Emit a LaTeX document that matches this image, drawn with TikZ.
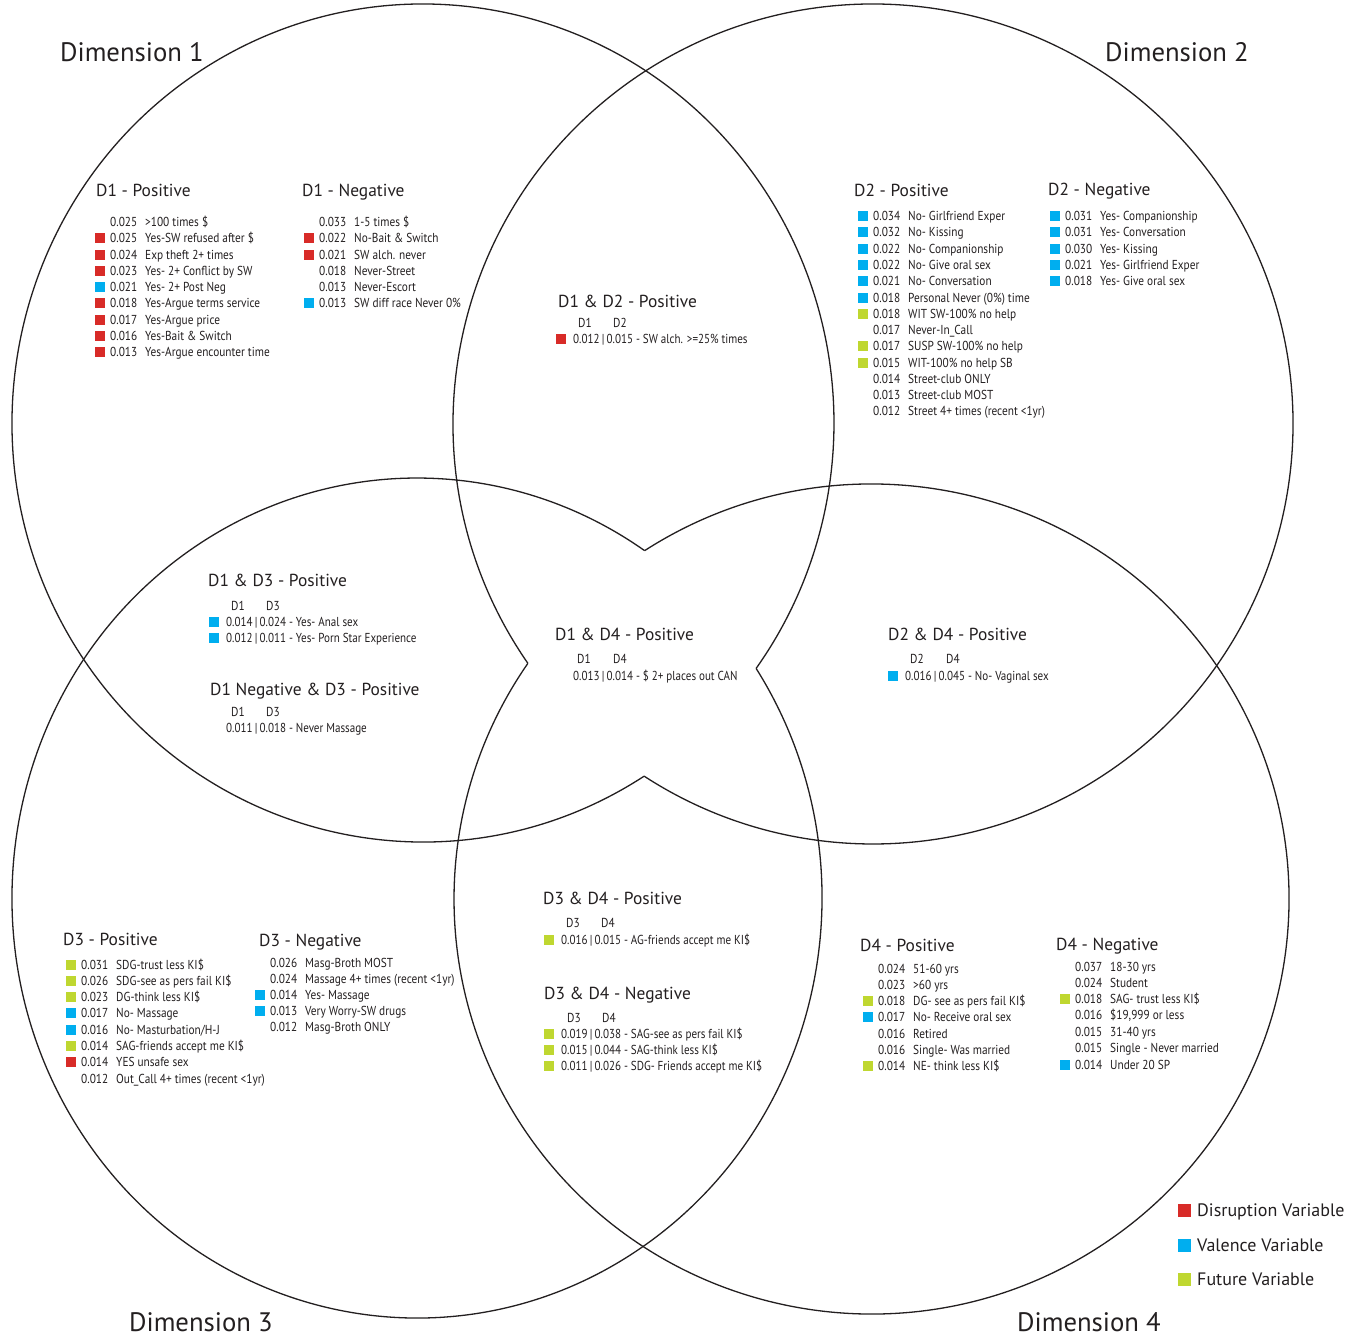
\documentclass[tikz,border=0pt]{standalone}
\usepackage{fontspec}
\setmainfont{PT Sans}
\newfontfamily\condfont[FakeStretch=0.87]{PT Sans}
\newfontfamily\pairfont[FakeStretch=0.85]{PT Sans}
\definecolor{disr}{RGB}{216,43,40}
\definecolor{vale}{RGB}{0,174,239}
\definecolor{futu}{RGB}{191,215,48}
\definecolor{ink}{RGB}{35,31,32}
\tikzset{
 circ/.style={draw=ink, line width=1.3pt},
 ttl/.style={anchor=base west, inner sep=0pt, text=ink, font=\fontsize{26.7}{30}\selectfont},
 hdr/.style={anchor=base west, inner sep=0pt, text=ink, font=\fontsize{17.4}{21}\selectfont},
 rowtxt/.style={anchor=base west, inner sep=0pt, text=ink, font=\condfont\fontsize{13}{15}\selectfont},
 pairtxt/.style={anchor=base west, inner sep=0pt, text=ink, font=\pairfont\fontsize{13}{15}\selectfont},
 legtxt/.style={anchor=base west, inner sep=0pt, text=ink, font=\fontsize{18}{21}\selectfont},
 sqbox/.style={inner sep=0pt, minimum size=9.5pt, draw=none},
 legsq/.style={inner sep=0pt, minimum size=13pt, draw=none},
}
\newcommand{\drow}[6]{%
  \def\tmpcol{#2}\def\nonecol{none}%
  \ifx\tmpcol\nonecol\else\node[sqbox,fill=#2] (#1s) at ({#3-10},#4) {};\fi
  \node[rowtxt] (#1v) at (#3,{#4+4.5}) {#5};
  \node[rowtxt] (#1l) at ({#3+35},{#4+4.5}) {#6};
}
\newcommand{\prow}[5]{%
  \def\tmpcol{#2}\def\nonecol{none}%
  \ifx\tmpcol\nonecol\else\node[sqbox,fill=#2] (#1s) at ({#3-12},#4) {};\fi
  \node[pairtxt] (#1t) at (#3,{#4+4.5}) {#5};
}
\begin{document}
\begin{tikzpicture}[x=1pt,y=-1pt]
\fill[white] (0,0) rectangle (1364,1338);
\useasboundingbox (0,0) rectangle (1364,1338);
% the four dimension circles (inner arcs of the centre region left out)
\draw[circ] (423,423) ++(57.47:411 and 419) arc[start angle=57.47, end angle=395.85, x radius=411, y radius=419];
\draw[circ] (873,424) ++(145.25:420 and 420) arc[start angle=145.25, end angle=483.04, x radius=420, y radius=420];
\draw[circ] (417,898) ++(-33.14:405 and 420) arc[start angle=-33.14, end angle=304.2, x radius=405, y radius=420];
\draw[circ] (871.5,899) ++(-122.92:417.5 and 415) arc[start angle=-122.92, end angle=214.59, x radius=417.5, y radius=415];
% titles
\node[ttl] (t1) at (60,62) {Dimension 1};
\node[ttl] (t2) at (1105,62) {Dimension 2};
\node[ttl] (t3) at (129,1331) {Dimension 3};
\node[ttl] (t4) at (1017,1331) {Dimension 4};
% D1 positive
\node[hdr] (h1p) at (96,196) {D1 - Positive};
\drow{a1}{none}{110}{222}{0.025}{>100 times \$}
\drow{a2}{disr}{110}{238}{0.025}{Yes-SW refused after \$}
\drow{a3}{disr}{110}{255}{0.024}{Exp theft 2+ times}
\drow{a4}{disr}{110}{271}{0.023}{Yes- 2+ Conflict by SW}
\drow{a5}{vale}{110}{287}{0.021}{Yes- 2+ Post Neg}
\drow{a6}{disr}{110}{303}{0.018}{Yes-Argue terms service}
\drow{a7}{disr}{110}{320}{0.017}{Yes-Argue price}
\drow{a8}{disr}{110}{336}{0.016}{Yes-Bait \& Switch}
\drow{a9}{disr}{110}{352}{0.013}{Yes-Argue encounter time}
% D1 negative
\node[hdr] (h1n) at (302,196) {D1 - Negative};
\drow{b1}{none}{319}{222}{0.033}{1-5 times \$}
\drow{b2}{disr}{319}{238}{0.022}{No-Bait \& Switch}
\drow{b3}{disr}{319}{255}{0.021}{SW alch. never}
\drow{b4}{none}{319}{271}{0.018}{Never-Street}
\drow{b5}{none}{319}{287}{0.013}{Never-Escort}
\drow{b6}{vale}{319}{303}{0.013}{SW diff race Never 0\%}
% D2 positive
\node[hdr] (h2p) at (854,196) {D2 - Positive};
\drow{c1}{vale}{873}{216}{0.034}{No- Girlfriend Exper}
\drow{c2}{vale}{873}{232}{0.032}{No- Kissing}
\drow{c3}{vale}{873}{249}{0.022}{No- Companionship}
\drow{c4}{vale}{873}{265}{0.022}{No- Give oral sex}
\drow{c5}{vale}{873}{281}{0.021}{No- Conversation}
\drow{c6}{vale}{873}{298}{0.018}{Personal Never (0\%) time}
\drow{c7}{futu}{873}{314}{0.018}{WIT SW-100\% no help}
\drow{c8}{none}{873}{330}{0.017}{Never-In\_Call}
\drow{c9}{futu}{873}{346}{0.017}{SUSP SW-100\% no help}
\drow{c10}{futu}{873}{363}{0.015}{WIT-100\% no help SB}
\drow{c11}{none}{873}{379}{0.014}{Street-club ONLY}
\drow{c12}{none}{873}{395}{0.013}{Street-club MOST}
\drow{c13}{none}{873}{411}{0.012}{Street 4+ times (recent <1yr)}
% D2 negative
\node[hdr] (h2n) at (1048,195) {D2 - Negative};
\drow{d1}{vale}{1065}{216}{0.031}{Yes- Companionship}
\drow{d2}{vale}{1065}{232}{0.031}{Yes- Conversation}
\drow{d3}{vale}{1065}{249}{0.030}{Yes- Kissing}
\drow{d4}{vale}{1065}{265}{0.021}{Yes- Girlfriend Exper}
\drow{d5}{vale}{1065}{281}{0.018}{Yes- Give oral sex}
% D1 & D2
\node[hdr] (h12) at (558,307) {D1 \& D2 - Positive};
\node[rowtxt] (h12a) at (578,327.5) {D1};
\node[rowtxt] (h12b) at (613,327.5) {D2};
\prow{e1}{disr}{573}{339}{0.012\,|\,0.015 - SW alch. >=25\% times}
% D1 & D3
\node[hdr] (h13) at (208,586) {D1 \& D3 - Positive};
\node[rowtxt] (h13a) at (231,610.5) {D1};
\node[rowtxt] (h13b) at (266,610.5) {D3};
\prow{f1}{vale}{226}{622}{0.014\,|\,0.024 - Yes- Anal sex}
\prow{f2}{vale}{226}{638}{0.012\,|\,0.011 - Yes- Porn Star Experience}
% D1 negative & D3
\node[hdr] (h13n) at (210,695) {D1 Negative \& D3 - Positive};
\node[rowtxt] (h13c) at (231,716.5) {D1};
\node[rowtxt] (h13d) at (266,716.5) {D3};
\prow{g1}{none}{226}{728}{0.011\,|\,0.018 - Never Massage}
% D1 & D4
\node[hdr] (h14) at (555,640) {D1 \& D4 - Positive};
\node[rowtxt] (h14a) at (577,663.5) {D1};
\node[rowtxt] (h14b) at (613,663.5) {D4};
\prow{k1}{none}{573}{676}{0.013\,|\,0.014 - \$ 2+ places out CAN}
% D2 & D4
\node[hdr] (h24) at (888,640) {D2 \& D4 - Positive};
\node[rowtxt] (h24a) at (910,663.5) {D2};
\node[rowtxt] (h24b) at (946,663.5) {D4};
\prow{m1}{vale}{905}{676}{0.016\,|\,0.045 - No- Vaginal sex}
% D3 positive
\node[hdr] (h3p) at (63,945) {D3 - Positive};
\drow{n1}{futu}{81}{965}{0.031}{SDG-trust less KI\$}
\drow{n2}{futu}{81}{981}{0.026}{SDG-see as pers fail KI\$}
\drow{n3}{futu}{81}{997}{0.023}{DG-think less KI\$}
\drow{n4}{vale}{81}{1013}{0.017}{No- Massage}
\drow{n5}{vale}{81}{1030}{0.016}{No- Masturbation/H-J}
\drow{n6}{futu}{81}{1046}{0.014}{SAG-friends accept me KI\$}
\drow{n7}{disr}{81}{1062}{0.014}{YES unsafe sex}
\drow{n8}{none}{81}{1079}{0.012}{Out\_Call 4+ times (recent <1yr)}
% D3 negative
\node[hdr] (h3n) at (259,946) {D3 - Negative};
\drow{p1}{none}{270}{963}{0.026}{Masg-Broth MOST}
\drow{p2}{none}{270}{979}{0.024}{Massage 4+ times (recent <1yr)}
\drow{p3}{vale}{270}{995}{0.014}{Yes- Massage}
\drow{p4}{vale}{270}{1011}{0.013}{Very Worry-SW drugs}
\drow{p5}{none}{270}{1027}{0.012}{Masg-Broth ONLY}
% D3 & D4 positive
\node[hdr] (h34p) at (543,904) {D3 \& D4 - Positive};
\node[rowtxt] (h34a) at (566,927.5) {D3};
\node[rowtxt] (h34b) at (601,927.5) {D4};
\prow{q1}{futu}{561}{940}{0.016\,|\,0.015 - AG-friends accept me KI\$}
% D3 & D4 negative
\node[hdr] (h34n) at (544,999) {D3 \& D4 - Negative};
\node[rowtxt] (h34c) at (567,1022.5) {D3};
\node[rowtxt] (h34d) at (602,1022.5) {D4};
\prow{r1}{futu}{561}{1034}{0.019\,|\,0.038 - SAG-see as pers fail KI\$}
\prow{r2}{futu}{561}{1050}{0.015\,|\,0.044 - SAG-think less KI\$}
\prow{r3}{futu}{561}{1066}{0.011\,|\,0.026 - SDG- Friends accept me KI\$}
% D4 positive
\node[hdr] (h4p) at (860,951) {D4 - Positive};
\drow{u1}{none}{878}{969}{0.024}{51-60 yrs}
\drow{u2}{none}{878}{985}{0.023}{>60 yrs}
\drow{u3}{futu}{878}{1001}{0.018}{DG- see as pers fail KI\$}
\drow{u4}{vale}{878}{1017}{0.017}{No- Receive oral sex}
\drow{u5}{none}{878}{1034}{0.016}{Retired}
\drow{u6}{none}{878}{1050}{0.016}{Single- Was married}
\drow{u7}{futu}{878}{1066}{0.014}{NE- think less KI\$}
% D4 negative
\node[hdr] (h4n) at (1056,950) {D4 - Negative};
\drow{w1}{none}{1075}{967}{0.037}{18-30 yrs}
\drow{w2}{none}{1075}{983}{0.024}{Student}
\drow{w3}{futu}{1075}{999}{0.018}{SAG- trust less KI\$}
\drow{w4}{none}{1075}{1015}{0.016}{\$19,999 or less}
\drow{w5}{none}{1075}{1032}{0.015}{31-40 yrs}
\drow{w6}{none}{1075}{1048}{0.015}{Single - Never married}
\drow{w7}{vale}{1075}{1065}{0.014}{Under 20 SP}
% legend
\node[legsq,fill=disr] (l1s) at (1184.5,1210) {};
\node[legtxt] (l1t) at (1197,1216.5) {Disruption Variable};
\node[legsq,fill=vale] (l2s) at (1184.5,1245) {};
\node[legtxt] (l2t) at (1197,1251.5) {Valence Variable};
\node[legsq,fill=futu] (l3s) at (1184.5,1279) {};
\node[legtxt] (l3t) at (1197,1285.5) {Future Variable};
\end{tikzpicture}
\end{document}
